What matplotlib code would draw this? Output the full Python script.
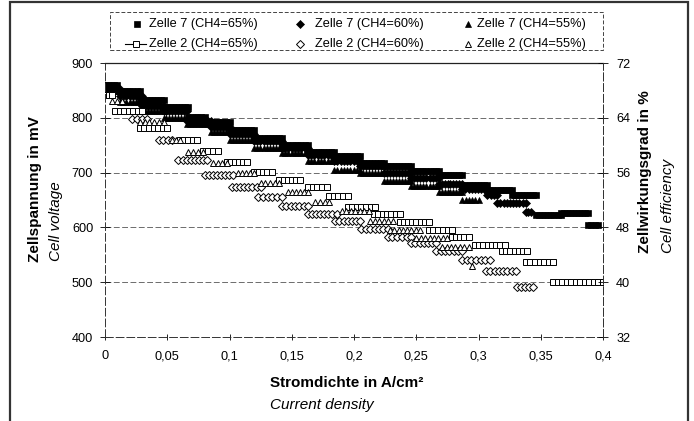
import numpy as np
import matplotlib
matplotlib.use("Agg")
import matplotlib.pyplot as plt
from matplotlib.lines import Line2D
from matplotlib.patches import Rectangle

plt.rcParams['font.family'] = ['Liberation Sans', 'DejaVu Sans']

# ---------------- data (step clusters: x start, x end, cell voltage mV) ----------------
z7_65_x0 = [0.000, 0.010, 0.028, 0.047, 0.067, 0.080, 0.100, 0.120, 0.142, 0.163, 0.184, 0.205, 0.224, 0.246, 0.268, 0.287, 0.307, 0.327, 0.346, 0.366, 0.388]
z7_65_x1 = [0.010, 0.028, 0.047, 0.067, 0.080, 0.100, 0.120, 0.142, 0.163, 0.184, 0.205, 0.224, 0.246, 0.268, 0.287, 0.307, 0.327, 0.346, 0.366, 0.388, 0.396]
z7_65_v = [860, 848, 833, 820, 802, 792, 778, 763, 751, 737, 731, 718, 712, 703, 695, 678, 668, 660, 622, 627, 604]

z7_60_x0 = [0.000, 0.012, 0.030, 0.047, 0.066, 0.085, 0.100, 0.120, 0.142, 0.163, 0.184, 0.205, 0.224, 0.246, 0.268, 0.287, 0.307, 0.315, 0.338]
z7_60_x1 = [0.012, 0.030, 0.047, 0.066, 0.085, 0.100, 0.120, 0.142, 0.163, 0.184, 0.205, 0.224, 0.246, 0.268, 0.287, 0.307, 0.315, 0.338, 0.342]
z7_60_v = [852, 840, 822, 812, 795, 783, 770, 758, 744, 732, 722, 712, 700, 690, 680, 670, 660, 645, 628]

z7_55_x0 = [0.000, 0.012, 0.030, 0.047, 0.066, 0.085, 0.100, 0.120, 0.142, 0.163, 0.184, 0.205, 0.224, 0.246, 0.268, 0.287]
z7_55_x1 = [0.010, 0.030, 0.047, 0.066, 0.085, 0.100, 0.120, 0.142, 0.163, 0.184, 0.205, 0.224, 0.246, 0.268, 0.287, 0.300]
z7_55_v = [848, 828, 812, 800, 788, 775, 760, 745, 735, 722, 705, 700, 685, 676, 665, 650]

z2_65_x0 = [0.000, 0.008, 0.028, 0.060, 0.079, 0.098, 0.120, 0.140, 0.163, 0.180, 0.195, 0.216, 0.237, 0.260, 0.279, 0.297, 0.319, 0.338, 0.360]
z2_65_x1 = [0.006, 0.030, 0.050, 0.074, 0.091, 0.114, 0.134, 0.157, 0.178, 0.195, 0.217, 0.237, 0.260, 0.279, 0.292, 0.321, 0.339, 0.360, 0.400]
z2_65_v = [842, 812, 782, 760, 740, 720, 702, 687, 674, 657, 638, 624, 609, 596, 582, 568, 557, 537, 500]

z2_60_x0 = [0.022, 0.043, 0.059, 0.080, 0.102, 0.123, 0.142, 0.163, 0.185, 0.206, 0.227, 0.246, 0.266, 0.287, 0.306, 0.331]
z2_60_x1 = [0.034, 0.054, 0.082, 0.103, 0.125, 0.142, 0.163, 0.186, 0.205, 0.227, 0.246, 0.266, 0.287, 0.309, 0.330, 0.344]
z2_60_v = [797, 760, 723, 695, 673, 655, 639, 625, 612, 597, 582, 572, 557, 540, 520, 492]

z2_55_x0 = [0.006, 0.028, 0.054, 0.067, 0.087, 0.107, 0.125, 0.147, 0.169, 0.190, 0.213, 0.229, 0.250, 0.271, 0.295]
z2_55_x1 = [0.014, 0.047, 0.060, 0.079, 0.098, 0.120, 0.140, 0.163, 0.180, 0.212, 0.231, 0.253, 0.275, 0.292, 0.295]
z2_55_v = [830, 793, 760, 738, 718, 700, 681, 664, 646, 630, 612, 596, 581, 565, 530]

labels = ["Zelle 7 (CH4=65%)", "Zelle 7 (CH4=60%)", "Zelle 7 (CH4=55%)",
          "Zelle 2 (CH4=65%)", "Zelle 2 (CH4=60%)", "Zelle 2 (CH4=55%)"]
x_ticks = [0, 0.05, 0.1, 0.15, 0.2, 0.25, 0.3, 0.35, 0.4]
x_ticklabels = ["0", "0,05", "0,1", "0,15", "0,2", "0,25", "0,3", "0,35", "0,4"]
y_ticks = [400, 500, 600, 700, 800, 900]
y2_ticks = [32, 40, 48, 56, 64, 72]


def cluster_points(x0s, x1s, vs, step):
    xs, ys = [], []
    for a, b, v in zip(x0s, x1s, vs):
        n = max(1, int(round((b - a) / step)) + 1)
        xs.extend(np.linspace(a, b, n))
        ys.extend([v] * n)
    return np.array(xs), np.array(ys)


W, H = 694, 421
fig = plt.figure(figsize=(W / 100, H / 100), dpi=100)


def fx(px):
    return px / W


def fy(py):
    return 1 - py / H


ax = fig.add_axes([fx(105), fy(337), (603 - 105) / W, (337 - 63) / H])
ax.set_xlim(0, 0.4)
ax.set_ylim(400, 900)

for yv in [500, 600, 700, 800]:
    ax.axhline(yv, color='#555555', lw=0.6, ls=(0, (7, 3)), zorder=0)

series = [
    (z7_65_x0, z7_65_x1, z7_65_v, dict(marker='s', ms=4.6, mfc='black', mec='black', mew=0.5), 0.0025),
    (z7_60_x0, z7_60_x1, z7_60_v, dict(marker='D', ms=4.0, mfc='black', mec='black', mew=0.5), 0.0025),
    (z7_55_x0, z7_55_x1, z7_55_v, dict(marker='^', ms=4.8, mfc='black', mec='black', mew=0.5), 0.0025),
    (z2_65_x0, z2_65_x1, z2_65_v, dict(marker='s', ms=4.2, mfc='white', mec='black', mew=0.7), 0.0035),
    (z2_60_x0, z2_60_x1, z2_60_v, dict(marker='D', ms=3.8, mfc='white', mec='black', mew=0.7), 0.0035),
    (z2_55_x0, z2_55_x1, z2_55_v, dict(marker='^', ms=4.6, mfc='white', mec='black', mew=0.7), 0.0035),
]
for x0s, x1s, vs, st, step in series:
    xs, ys = cluster_points(x0s, x1s, vs, step)
    ax.plot(xs, ys, ls='none', **st)

ax.set_xticks(x_ticks)
ax.set_xticklabels(x_ticklabels)
ax.set_yticks(y_ticks)
ax.tick_params(axis='x', direction='inout', length=5, width=0.6, labelsize=9.2, pad=7, colors='black')
ax.tick_params(axis='y', direction='inout', length=7, width=0.6, labelsize=9.2, pad=5)

for side in ['left', 'right', 'bottom']:
    ax.spines[side].set_linestyle((0, (8, 3)))
    ax.spines[side].set_linewidth(0.7)
    ax.spines[side].set_color('#333333')
ax.spines['top'].set_linewidth(0.9)
ax.spines['top'].set_color('#222222')

ax2 = ax.twinx()
ax2.set_ylim(32, 72)
ax2.set_yticks(y2_ticks)
ax2.tick_params(axis='y', direction='inout', length=7, width=0.6, labelsize=9.2, pad=6)
for side in ['left', 'right', 'bottom', 'top']:
    ax2.spines[side].set_visible(False)
ax2.spines['right'].set_visible(True)
ax2.spines['right'].set_linestyle((0, (8, 3)))
ax2.spines['right'].set_linewidth(0.7)
ax2.spines['right'].set_color('#333333')

# axis titles
fig.text(fx(35), fy(262), "Zellspannung in mV", rotation=90, ha='center', va='bottom',
         fontsize=11, fontweight='bold')
fig.text(fx(56), fy(261), "Cell voltage", rotation=90, ha='center', va='bottom',
         fontsize=11, fontstyle='italic')
fig.text(fx(645), fy(253), "Zellwirkungsgrad in %", rotation=90, ha='center', va='bottom',
         fontsize=11, fontweight='bold')
fig.text(fx(668), fy(253), "Cell efficiency", rotation=90, ha='center', va='bottom',
         fontsize=11, fontstyle='italic')
fig.text(fx(270), fy(383), "Stromdichte in A/cm²", ha='left', va='center',
         fontsize=11, fontweight='bold')
fig.text(fx(270), fy(405), "Current density", ha='left', va='center',
         fontsize=11, fontstyle='italic')

# legend (manual)
fig.add_artist(Rectangle((fx(110), fy(50)), (603 - 110) / W, (50 - 12) / H, transform=fig.transFigure,
                         fill=False, ec='#444444', lw=0.7, ls=(0, (4, 2))))
leg_styles = [st for *_, st, _ in series]
col_marker = [137, 300, 468]
col_text = [149, 315, 477]
row_y = [24, 44]
for i, (lab, st) in enumerate(zip(labels, leg_styles)):
    r, c = divmod(i, 3)
    if i == 3:
        fig.add_artist(Line2D([fx(125), fx(146)], [fy(row_y[r])] * 2, transform=fig.transFigure,
                              color='black', lw=0.8))
    fig.add_artist(Line2D([fx(col_marker[c] if i != 3 else 136)], [fy(row_y[r])], transform=fig.transFigure,
                          ls='none', **st))
    fig.text(fx(col_text[c]), fy(row_y[r]), lab, ha='left', va='center', fontsize=9.2)

# outer frame
fig.add_artist(Rectangle((fx(10), -0.02), (688 - 10) / W, fy(2) + 0.02, transform=fig.transFigure,
                         fill=False, ec='#333333', lw=1.6))

fig.savefig("out.png", dpi=100)
